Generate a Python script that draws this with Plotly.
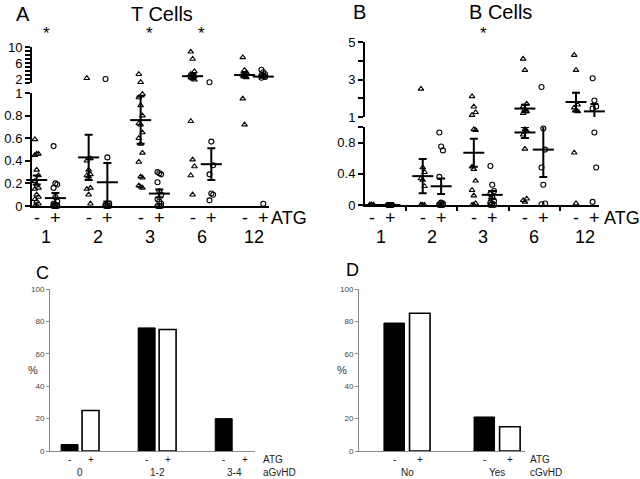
import plotly.graph_objects as go

W, H = 640, 479
FONT = "Liberation Sans, Arial, sans-serif"

# ---------------- data ----------------
groups = ['1', '2', '3', '6', '12']
sig_A = ['1', '3', '6']
sig_B = ['3']

# Panel A: T cells (ATG- triangles, ATG+ circles)
a_minus = [
    [0.59, 0.46, 0.46, 0.45, 0.32, 0.27, 0.22, 0.19, 0.16, 0.15, 0.10, 0.08, 0.06, 0.04, 0.02, 0.0, 0.0],
    [2.2, 0.42, 0.42, 0.40, 0.32, 0.28, 0.27, 0.26, 0.16, 0.15, 0.10, 0.02],
    [3.2, 1.2, 0.99, 0.96, 0.89, 0.80, 0.73, 0.72, 0.65, 0.60, 0.55, 0.47, 0.39, 0.26, 0.25, 0.18, 0.17, 0.16],
    [8.8, 7.0, 3.9, 3.2, 3.0, 2.7, 2.4, 2.1, 1.8, 0.75, 0.41, 0.35, 0.27, 0.10],
    [7.4, 4.2, 3.6, 3.0, 2.8, 2.4, 0.95, 0.72],
]
a_plus = [
    [0.53, 0.20, 0.19, 0.16, 0.08, 0.04, 0.02, 0.01, 0, 0, 0, 0, 0],
    [2.0, 0.43, 0.02, 0.01, 0, 0, 0, 0],
    [0.30, 0.29, 0.28, 0.21, 0.13, 0.10, 0.06, 0.04, 0.02, 0, 0, 0],
    [1.2, 0.57, 0.36, 0.28, 0.11, 0.10, 0.05],
    [4.3, 3.7, 3.2, 3.0, 2.8, 2.5, 2.3, 0.02],
]
a_low_mean_minus = [0.23, 0.43, 0.76, None, None]
a_low_err_minus = [0.04, 0.20, 0.21, None, None]
a_low_mean_plus = [0.07, 0.21, 0.11, 0.37, None]
a_low_err_plus = [0.045, 0.17, 0.035, 0.14, None]
a_up_mean_minus = [None, None, None, 2.7, 3.0]
a_up_err_minus = [None, None, None, 0.6, 0.6]
a_up_mean_plus = [None, None, None, None, 2.6]
a_up_err_plus = [None, None, None, None, 0.3]

# Panel B: B cells
b_minus = [
    [0, 0, 0, 0, 0, 0, 0, 0],
    [2.5, 0.48, 0.42, 0.34, 0.32, 0.24, 0, 0, 0, 0],
    [2.1, 1.55, 1.25, 1.1, 0.97, 0.96, 0.49, 0.46, 0.31, 0.19, 0.12, 0.02, 0, 0],
    [4.1, 3.5, 1.7, 1.55, 1.4, 1.3, 1.2, 0.97, 0.95, 0.9, 0.72, 0.08, 0.06, 0.04],
    [4.3, 3.5, 1.65, 1.5, 1.35, 1.3, 0.67, 0.02],
]
b_plus = [
    [0, 0, 0, 0, 0, 0, 0, 0, 0],
    [0.93, 0.75, 0.70, 0.36, 0.03, 0.02, 0.01, 0, 0, 0],
    [0.50, 0.26, 0.18, 0.14, 0.10, 0.05, 0.03, 0.02, 0, 0],
    [2.6, 0.98, 0.71, 0.48, 0.26, 0.02, 0.01],
    [3.07, 1.88, 1.56, 1.45, 0.93, 0.48, 0.04],
]
b_low_mean_minus = [0, 0.37, 0.67, 0.93, None]
b_low_err_minus = [0, 0.22, 0.18, 0.07, None]
b_low_mean_plus = [0, 0.24, 0.13, 0.71, None]
b_low_err_plus = [0, 0.10, 0.05, 0.35, None]
b_up_mean_minus = [None, None, None, 1.45, 1.8]
b_up_err_minus = [None, None, None, 0.2, 0.5]
b_up_mean_plus = [None, None, None, None, 1.3]
b_up_err_plus = [None, None, None, None, 0.4]

# Panel C: aGvHD
c_cats = ['0', '1-2', '3-4']
c_minus = [4, 76, 20]
c_plus = [25, 75, 0]
# Panel D: cGvHD
d_cats = ['No', 'Yes']
d_minus = [79, 21]
d_plus = [85, 15]

# ---------------- helpers ----------------
def px(p):
    return p / W

def py(p):
    return 1 - p / H

fig = go.Figure()
annotations = []


def add_points(values, xa, ya_low, ya_up, split, offset, symbol):
    for lo_flag, ya in ((True, ya_low), (False, ya_up)):
        xs, ys = [], []
        for i, vals in enumerate(values):
            for k, v in enumerate(vals):
                if (v <= split) == lo_flag:
                    xs.append(i + offset + ((k % 3) - 1) * 0.035)
                    ys.append(v)
        fig.add_trace(go.Scatter(
            x=xs, y=ys, mode='markers', xaxis=xa, yaxis=ya, cliponaxis=False,
            marker=dict(symbol=symbol, size=5, color='black', line=dict(width=1.1, color='black')),
            showlegend=False, hoverinfo='skip'))


def add_means(means, errs, xa, ya, offset):
    xs, ys, es = [], [], []
    for i, (m, e) in enumerate(zip(means, errs)):
        if m is not None:
            xs.append(i + offset)
            ys.append(m)
            es.append(e)
    fig.add_trace(go.Scatter(
        x=xs, y=ys, mode='markers', xaxis=xa, yaxis=ya, cliponaxis=False,
        marker=dict(symbol='line-ew', size=15, line=dict(width=2, color='black')),
        error_y=dict(type='data', array=es, visible=True, thickness=2, width=4, color='black'),
        showlegend=False, hoverinfo='skip'))


def add_bars(vals, offset, width, xa, ya, fill, lw):
    fig.add_trace(go.Bar(
        x=[i + offset for i in range(len(vals))], y=vals, width=width,
        xaxis=xa, yaxis=ya,
        marker=dict(color=fill, line=dict(color='black', width=[lw if v > 0 else 0 for v in vals])),
        showlegend=False, hoverinfo='skip'))


OFF = 0.18
# Panel A
add_points(a_minus, 'x', 'y', 'y2', 1.0, -OFF, 'triangle-up-open')
add_points(a_plus, 'x', 'y', 'y2', 1.0, OFF, 'circle-open')
add_means(a_low_mean_minus, a_low_err_minus, 'x', 'y', -OFF)
add_means(a_low_mean_plus, a_low_err_plus, 'x', 'y', OFF)
add_means(a_up_mean_minus, a_up_err_minus, 'x', 'y2', -OFF)
add_means(a_up_mean_plus, a_up_err_plus, 'x', 'y2', OFF)

# Panel B
add_points(b_minus, 'x2', 'y3', 'y4', 1.0, -OFF, 'triangle-up-open')
add_points(b_plus, 'x2', 'y3', 'y4', 1.0, OFF, 'circle-open')
add_means(b_low_mean_minus, b_low_err_minus, 'x2', 'y3', -OFF)
add_means(b_low_mean_plus, b_low_err_plus, 'x2', 'y3', OFF)
add_means(b_up_mean_minus, b_up_err_minus, 'x2', 'y4', -OFF)
add_means(b_up_mean_plus, b_up_err_plus, 'x2', 'y4', OFF)

# Panel C / D bars
BOFF_C, BW_C = 0.136, 0.22
add_bars(c_minus, -BOFF_C, BW_C, 'x3', 'y5', 'black', 1)
add_bars(c_plus, BOFF_C, BW_C, 'x3', 'y5', 'white', 1.6)
BOFF_D, BW_D = 0.142, 0.228
add_bars(d_minus, -BOFF_D, BW_D, 'x4', 'y6', 'black', 1)
add_bars(d_plus, BOFF_D, BW_D, 'x4', 'y6', 'white', 1.6)

# ---------------- annotations ----------------
def ann(text, x, y, size, xref='paper', color='black', xanchor='center'):
    annotations.append(dict(text=text, x=x, y=y, xref=xref, yref='paper', showarrow=False,
                            xanchor=xanchor, yanchor='middle',
                            font=dict(family=FONT, size=size, color=color)))

# Panel titles
ann('A', px(23), py(14), 20)
ann('T Cells', px(162), py(14), 20)
ann('B', px(359), py(12), 20)
ann('B Cells', px(500), py(12), 20)
ann('C', px(42), py(273), 18)
ann('D', px(352), py(270), 18)

# significance stars
for g in sig_A:
    ann('*', groups.index(g), py(33), 17, xref='x')
for g in sig_B:
    ann('*', groups.index(g), py(33), 17, xref='x2')

# A / B category rows
for xr in ('x', 'x2'):
    for i, g in enumerate(groups):
        ann('-', i - OFF, py(218), 18, xref=xr)
        ann('+', i + OFF, py(218), 18, xref=xr)
        ann(g, i, py(237), 18, xref=xr)
ann('ATG', px(289), py(218), 18)
ann('ATG', px(622), py(218), 18)

# C / D category rows
TXT = '#222'
for i, c in enumerate(c_cats):
    ann('-', i - BOFF_C, py(459), 10, xref='x3', color=TXT)
    ann('+', i + BOFF_C, py(459), 10, xref='x3', color=TXT)
    ann(c, i, py(472.5), 10, xref='x3', color=TXT)
for i, c in enumerate(d_cats):
    ann('-', i - BOFF_D, py(459), 10, xref='x4', color=TXT)
    ann('+', i + BOFF_D, py(459), 10, xref='x4', color=TXT)
    ann(c, i, py(472.5), 10, xref='x4', color=TXT)
ann('ATG', px(261), py(459), 10, color=TXT, xanchor='left')
ann('aGvHD', px(261), py(472.5), 10, color=TXT, xanchor='left')
ann('ATG', px(528), py(459), 10, color=TXT, xanchor='left')
ann('cGvHD', px(528), py(472.5), 10, color=TXT, xanchor='left')
ann('%', px(33), py(370), 11, color='#333')
ann('%', px(342), py(370), 11, color='#333')

# ---------------- axes ----------------
blk_y = dict(showline=True, linecolor='black', linewidth=2, ticks='outside', tickcolor='black',
             tickwidth=2, ticklen=5, showgrid=False, zeroline=False, automargin=False,
             tickfont=dict(family=FONT, size=13, color='black'))
blk_x = dict(showline=True, linecolor='black', linewidth=2, showgrid=False, zeroline=False,
             showticklabels=False, automargin=False)
gry_y = dict(showline=True, linecolor='#888', linewidth=1, ticks='outside', tickcolor='#888',
             tickwidth=1, ticklen=3, showgrid=False, zeroline=False, range=[0, 100], automargin=False,
             tickvals=[0, 20, 40, 60, 80, 100], tickfont=dict(family=FONT, size=8, color='#444'))
gry_x = dict(showline=True, linecolor='#888', linewidth=1.2, showgrid=False, zeroline=False,
             showticklabels=False, ticks='', automargin=False)

fig.update_layout(
    template='none',
    width=W, height=H, margin=dict(l=0, r=0, t=0, b=0, pad=0, autoexpand=False),
    paper_bgcolor='white', plot_bgcolor='white', showlegend=False, barmode='overlay',
    xaxis=dict(domain=[px(32), px(269)], range=[-0.27, 4.29], anchor='y', ticks='', **blk_x),
    yaxis=dict(domain=[py(206), py(93)], range=[0, 1], anchor='x',
               tickvals=[0, 0.2, 0.4, 0.6, 0.8, 1], ticktext=['0', '0.2', '0.4', '0.6', '0.8', '1'], **blk_y),
    yaxis2=dict(domain=[py(83), py(47)], range=[1, 10], anchor='x',
                tickvals=list(range(1, 11)),
                ticktext=['', '2', '', '', '', '6', '', '', '', '10'], **blk_y),
    xaxis2=dict(domain=[px(365), px(599)], range=[-0.31, 4.27], anchor='y3',
                tickvals=[0.5, 1.5, 2.5, 3.5], ticks='outside', ticklen=4, tickwidth=2,
                tickcolor='black', **blk_x),
    yaxis3=dict(domain=[py(205), py(127)], range=[0, 1], anchor='x2',
                tickvals=[0, 0.4, 0.8, 1], ticktext=['0', '0.4', '0.8', ''], **blk_y),
    yaxis4=dict(domain=[py(117), py(42)], range=[1, 5], anchor='x2',
                tickvals=[1, 2, 3, 4, 5], ticktext=['1', '', '3', '', '5'], **blk_y),
    xaxis3=dict(domain=[px(50), px(255)], range=[-0.39, 2.27], anchor='y5', **gry_x),
    yaxis5=dict(domain=[py(451), py(289)], anchor='x3', **gry_y),
    xaxis4=dict(domain=[px(359), px(525)], range=[-0.533, 1.31], anchor='y6', **gry_x),
    yaxis6=dict(domain=[py(451), py(289)], anchor='x4', **gry_y),
    annotations=annotations,
)

fig.write_html("out.html", config={'displayModeBar': False},
               post_script="document.body.style.margin='0';document.body.style.overflow='hidden';")
